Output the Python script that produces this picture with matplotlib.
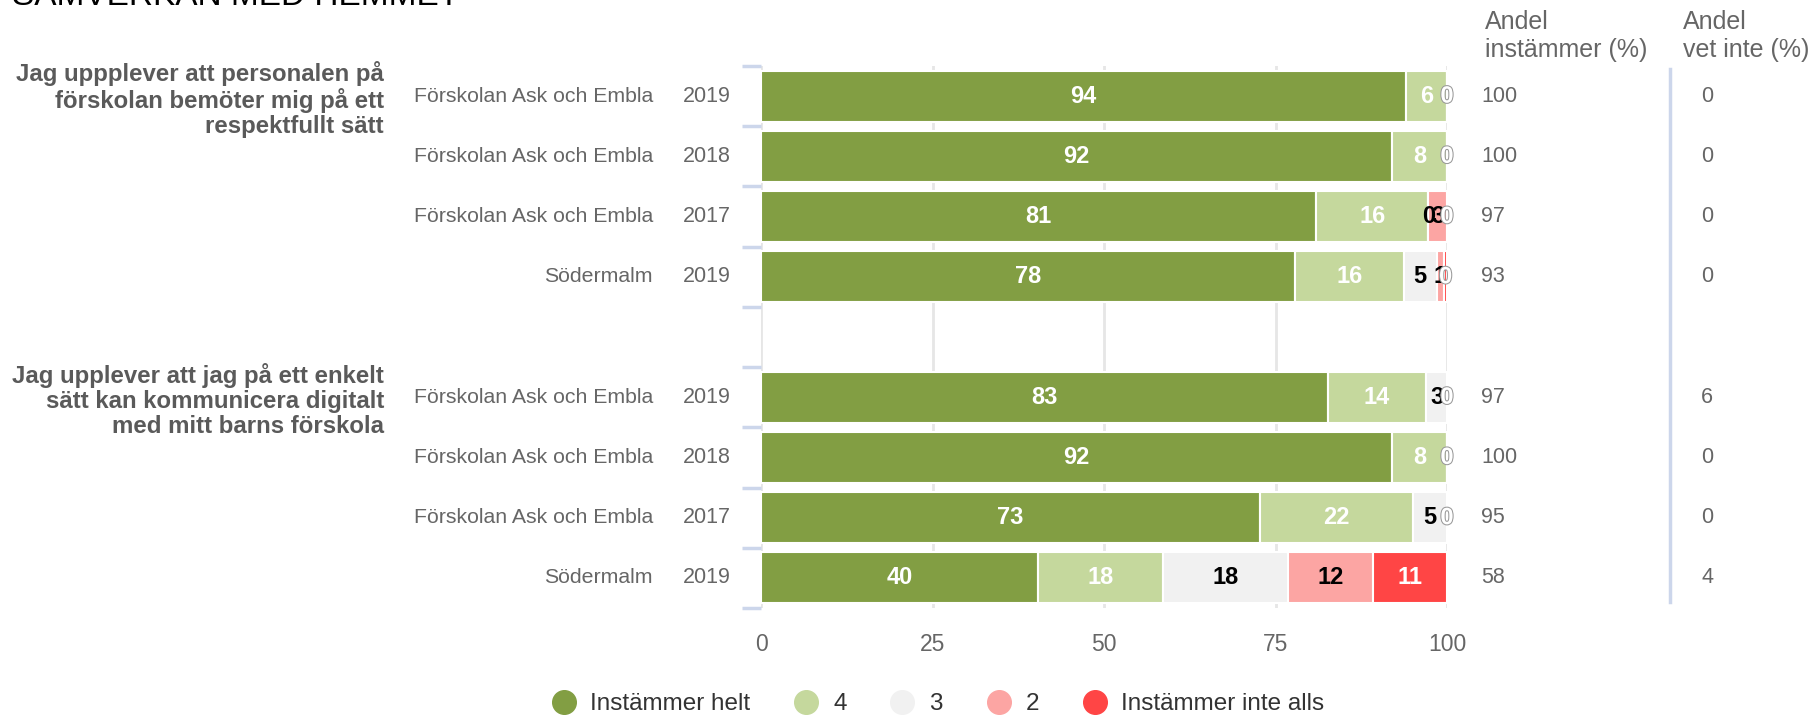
import matplotlib
matplotlib.use("Agg")
import matplotlib.pyplot as plt
import matplotlib.patheffects as pe
from matplotlib.lines import Line2D
import numpy as np

plt.rcParams['font.family'] = ['Liberation Sans', 'DejaVu Sans']

title = "SAMVERKAN MED HEMMET"
questions = ["Jag uppplever att personalen på\nförskolan bemöter mig på ett\nrespektfullt sätt",
             "Jag upplever att jag på ett enkelt\nsätt kan kommunicera digitalt\nmed mitt barns förskola"]
units = ["Förskolan Ask och Embla", "Förskolan Ask och Embla", "Förskolan Ask och Embla", "Södermalm"]
years = ["2019", "2018", "2017", "2019"]

series = ["Instämmer helt", "4", "3", "2", "Instämmer inte alls"]
colors = ["#829e43", "#c5d89d", "#f1f1f1", "#fca5a3", "#ff4545"]
label_colors = ["white", "white", "black", "black", "white"]

# one row per unit/year, question 1 then question 2
helt = [94, 92, 80.9, 77.8, 82.6, 92, 72.7, 40.4]
fyra = [6, 8, 16.4, 15.9, 14.4, 8, 22.3, 18.2]
tre = [0, 0, 0, 4.8, 3.0, 0, 5.0, 18.2]
tva = [0, 0, 2.7, 1.1, 0, 0, 0, 12.4]
inte = [0, 0, 0, 0.4, 0, 0, 0, 10.8]

andel_instammer = [100, 100, 97, 93, 97, 100, 95, 58]
andel_vet_inte = [0, 0, 0, 0, 6, 0, 0, 4]

W, H = 1810, 717
fig = plt.figure(figsize=(W / 100, H / 100), dpi=100)

x0, x1 = 761, 1447
top, bot = 66, 608
ax = fig.add_axes([x0 / W, 1 - bot / H, (x1 - x0) / W, (bot - top) / H])

def px(x):
    # figure pixel x -> axes fraction
    return (x - x0) / (x1 - x0)

ypos = [0, 1, 2, 3, 5, 6, 7, 8]
data = np.array([helt, fyra, tre, tva, inte])
lefts = np.vstack([np.zeros(len(ypos)), np.cumsum(data, axis=0)[:-1]])

for i in range(5):
    vals = data[i]
    ax.barh(ypos, vals, left=lefts[i], height=0.85, color=colors[i],
            edgecolor="white", linewidth=1.5, zorder=2)
    for j, (y, v) in enumerate(zip(ypos, vals)):
        lab = str(int(round(v)))
        xc = lefts[i][j] + v / 2
        if v == 0:
            # a later zero label on the same spot hides this one
            if any(data[k][j] == 0 and abs(lefts[k][j] - lefts[i][j]) < 0.5
                   for k in range(i + 1, 5)):
                continue
            xc = lefts[i][j]
        t = ax.text(xc, y, lab, ha="center", va="center", fontsize=17,
                    fontweight="bold", color=label_colors[i], zorder=4)
        if label_colors[i] == "white" and v < 1:
            t.set_path_effects([pe.withStroke(linewidth=1.5, foreground="#999999")])

ax.set_xlim(0, 100)
ax.set_ylim(8.5, -0.5)
ax.set_xticks([0, 25, 50, 75, 100])
ax.grid(axis="x", color="#e6e6e6", linewidth=2, zorder=0)
ax.set_axisbelow(True)
for s in ax.spines.values():
    s.set_visible(False)
ax.tick_params(axis="x", length=0, pad=18, labelsize=16.5, labelcolor="#666666")
ax.set_yticks([])
ax.set_yticks(np.arange(-0.5, 9, 1), minor=True)
ax.tick_params(axis="y", which="minor", length=14, width=2.5, color="#ccd6eb")

ty = ax.get_yaxis_transform()
for j, y in enumerate(ypos):
    ax.text(px(653), y, units[j % 4], transform=ty, ha="right", va="center",
            fontsize=15.3, color="#666666")
    ax.text(px(683), y, years[j % 4], transform=ty, ha="left", va="center",
            fontsize=15.5, color="#666666")
    ax.text(px(1481), y, str(andel_instammer[j]), transform=ty, ha="left",
            va="center", fontsize=15.5, color="#666666")
    ax.text(px(1701), y, str(andel_vet_inte[j]), transform=ty, ha="left",
            va="center", fontsize=15.5, color="#666666")

for q, y in zip(questions, [0, 5]):
    ax.text(px(384), y + 0.05, q, transform=ty, ha="right", va="center", fontsize=17.3,
            fontweight="bold", color="#5a5a5a", linespacing=1.1)

ax.plot([px(1670), px(1670)], [1 - (69 - top) / (bot - top), 1 - (602 - top) / (bot - top)],
        transform=ax.transAxes, color="#ccd6eb", linewidth=2.5, clip_on=False)

fig.text(1485 / W, 1 - 10 / H, "Andel\ninstämmer (%)", ha="left", va="top",
         fontsize=18, color="#666666", linespacing=1.2)
fig.text(1683 / W, 1 - 10 / H, "Andel\nvet inte (%)", ha="left", va="top",
         fontsize=18, color="#666666", linespacing=1.2)

fig.text(12 / W, 1 - 5 / H, title, ha="left", va="baseline", fontsize=24, color="black")

handles = [Line2D([], [], marker="o", linestyle="", markersize=17,
                  markerfacecolor=c, markeredgecolor=c) for c in colors]
fig.legend(handles, series, loc="center", bbox_to_anchor=(938 / W, 1 - 704 / H),
           ncol=5, frameon=False, fontsize=17.5, labelcolor="#333333",
           handlelength=1.0, handletextpad=0.6, columnspacing=1.8)

fig.savefig("out.png", dpi=100)
